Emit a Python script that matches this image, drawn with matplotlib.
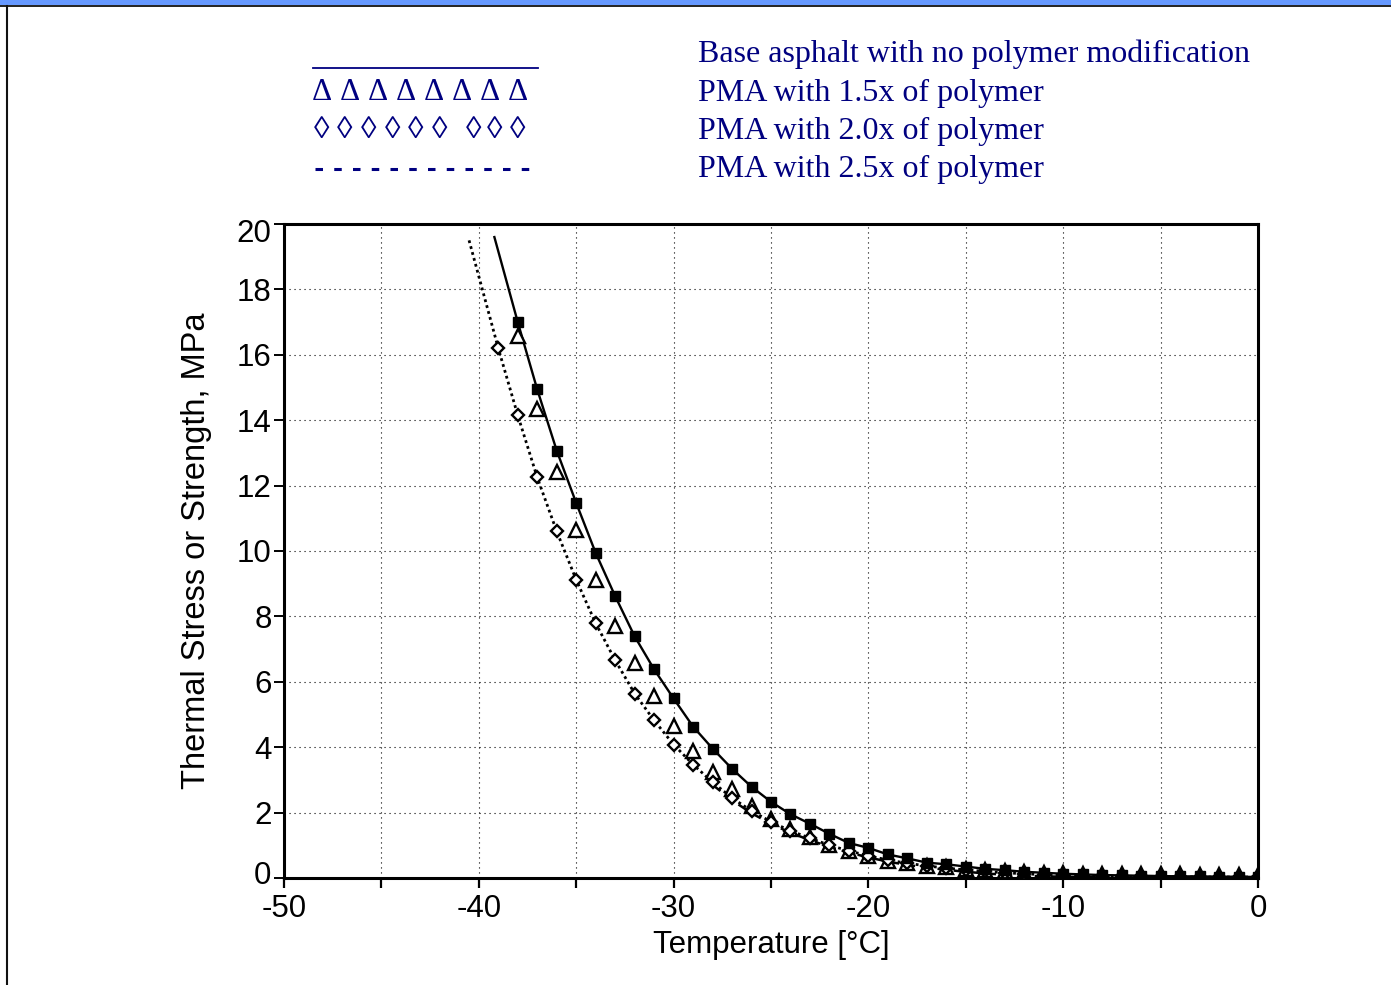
import matplotlib
matplotlib.use("Agg")
import matplotlib.pyplot as plt
import matplotlib.transforms as mtransforms
from matplotlib.lines import Line2D
from matplotlib.patches import Rectangle
from matplotlib.ticker import MultipleLocator

# ---------------- data ----------------
temps_base = list(range(-38, 1))
stress_base = [17.0, 14.94, 13.07, 11.47, 9.94, 8.62, 7.39, 6.38, 5.49, 4.63,
               3.96, 3.34, 2.79, 2.33, 1.95, 1.66, 1.35, 1.07, 0.92, 0.72,
               0.60, 0.47, 0.42, 0.35, 0.28, 0.24, 0.19, 0.16, 0.13, 0.11,
               0.09, 0.08, 0.07, 0.06, 0.05, 0.05, 0.04, 0.04, 0.03]
curve_start_base = (-39.2, 19.6)

temps_15 = list(range(-38, 1))
stress_15 = [16.56, 14.33, 12.42, 10.64, 9.11, 7.70, 6.56, 5.58, 4.66, 3.87,
             3.25, 2.73, 2.20, 1.80, 1.50, 1.25, 1.00, 0.82, 0.66, 0.53,
             0.45, 0.38, 0.33, 0.28, 0.24, 0.20, 0.17, 0.15, 0.14, 0.13,
             0.12, 0.12, 0.11, 0.11, 0.11, 0.10, 0.10, 0.09, 0.08]

temps_20 = list(range(-39, 1))
stress_20 = [16.2, 14.15, 12.25, 10.6, 9.12, 7.79, 6.66, 5.64, 4.82, 4.08,
             3.47, 2.93, 2.45, 2.05, 1.72, 1.44, 1.22, 1.00, 0.83, 0.68,
             0.55, 0.45, 0.37, 0.30, 0.25, 0.20, 0.16, 0.13, 0.10, 0.08,
             0.07, 0.06, 0.05, 0.05, 0.04, 0.04, 0.03, 0.03, 0.03, 0.03]
curve_start_20 = (-40.5, 19.5)

temps_25 = list(range(-28, 1))
stress_25 = [2.85, 2.38, 1.98, 1.66, 1.38, 1.16, 0.95, 0.78, 0.63, 0.50,
             0.40, 0.32, 0.25, 0.19, 0.14, 0.10, 0.07, 0.05, 0.04, 0.03,
             0.02, 0.02, 0.02, 0.01, 0.01, 0.01, 0.01, 0.01, 0.01]

legend_labels = ["Base asphalt with no polymer modification",
                 "PMA with 1.5x of polymer",
                 "PMA with 2.0x of polymer",
                 "PMA with 2.5x of polymer"]
delta_glyph = "\u0394"
lozenge_glyph = "\u25CA"

x_ticks = [-50, -40, -30, -20, -10, 0]
x_ticklabels = ["-50", "-40", "-30", "-20", "-10", "0"]
x_label = "Temperature [\u00b0C]"
y_label = "Thermal Stress or Strength, MPa"

# ---------------- figure ----------------
W, H = 1391, 985
fig = plt.figure(figsize=(W / 100, H / 100), dpi=100)
fig.patch.set_facecolor("white")

def fx(px):
    return px / W

def fy(py):
    return 1 - py / H

# slide frame
fig.add_artist(Rectangle((0, fy(4.5)), 1, 4.5 / H, transform=fig.transFigure,
                         facecolor="#6699ff", edgecolor="none"))
fig.add_artist(Line2D([0, 1], [fy(5.5), fy(5.5)], transform=fig.transFigure,
                      color="#111111", lw=1.3))
fig.add_artist(Line2D([fx(6.8), fx(6.8)], [0, fy(5.5)], transform=fig.transFigure,
                      color="#111111", lw=1.5))

ax = fig.add_axes([fx(284), fy(878), fx(1258) - fx(284), fy(224) - fy(878)])

# series
ax.plot([curve_start_base[0]] + temps_base, [curve_start_base[1]] + stress_base,
        color="black", lw=1.7, zorder=3)
ax.plot(temps_base, stress_base, ls="none", marker="s", ms=7.0,
        mfc="black", mec="black", zorder=5)

ax.plot(temps_15, stress_15, ls="none", marker="^", ms=9.5, mfc="white",
        mec="black", mew=1.7, zorder=4)

ax.plot([curve_start_20[0]] + temps_20, [curve_start_20[1]] + stress_20,
        color="black", lw=2.0, ls=(0, (1, 1.2)), zorder=3)
ax.plot(temps_20, stress_20, ls="none", marker="D", ms=6.5, mfc="white",
        mec="black", mew=1.7, zorder=4)

ax.plot(temps_25, stress_25, color="black", lw=1.8, ls=(0, (4, 2.5)), zorder=3)

ax.set_xlim(-50, 0)
ax.set_ylim(0, 20)
ax.xaxis.set_minor_locator(MultipleLocator(5))
ax.yaxis.set_major_locator(MultipleLocator(2))
ax.set_xticks(x_ticks)
ax.set_xticklabels(x_ticklabels)

ax.grid(True, which="both", axis="x", color="black", lw=0.8, ls=(0, (1, 3.5)))
ax.grid(True, which="major", axis="y", color="black", lw=0.8, ls=(0, (1, 3.5)))
ax.set_axisbelow(True)

for s in ax.spines.values():
    s.set_linewidth(2.2)
    s.set_color("black")

ax.tick_params(axis="x", which="both", direction="out", length=7.5, width=1.6,
               labelsize=22.5, pad=4)
ax.tick_params(axis="y", which="major", direction="out", length=7, width=1.4,
               labelsize=22.5, pad=2)
for lbl in ax.get_xticklabels() + ax.get_yticklabels():
    lbl.set_fontfamily("Liberation Sans")

# end labels of the y axis are nudged inwards, as in the original
fig.canvas.draw()
for lbl in ax.get_yticklabels():
    txt = lbl.get_text().replace("\u2212", "-")
    if txt == "0":
        lbl.set_transform(lbl.get_transform() +
                          mtransforms.ScaledTranslation(0, 6 / 100, fig.dpi_scale_trans))
    elif txt == "20":
        lbl.set_transform(lbl.get_transform() +
                          mtransforms.ScaledTranslation(0, -6 / 100, fig.dpi_scale_trans))

ax.set_xlabel(x_label, fontsize=22.5, family="Liberation Sans", labelpad=4)
ax.set_ylabel(y_label, fontsize=23.5, family="Liberation Sans", labelpad=18)

# legend drawn as in the original (blue text block)
navy = "#000080"
serif = ["Liberation Serif", "DejaVu Serif"]
fig.add_artist(Line2D([fx(313), fx(538)], [fy(68), fy(68)], transform=fig.transFigure,
                      color=navy, lw=1.3))
for i in range(8):
    fig.text(fx(322 + i * 28.0), fy(93), delta_glyph, ha="center", va="center",
             fontsize=22.5, family=serif, color=navy)
loz_x = [321.4, 345.0, 368.8, 392.4, 416.0, 439.7, 473.2, 494.6, 517.9]
for xx in loz_x:
    fig.text(fx(xx), fy(130), lozenge_glyph, ha="center", va="center",
             fontsize=22.5, family=serif, color=navy)
lw_d = 2.2
fig.add_artist(Line2D([fx(315), fx(529.5)], [fy(168.5), fy(168.5)], transform=fig.transFigure,
                      color=navy, lw=lw_d, solid_capstyle="butt", dash_capstyle="butt",
                      ls=(0, (5.4 / lw_d, 8.1 / lw_d))))
text_rows = [52, 91, 129, 167]
for lab, yy in zip(legend_labels, text_rows):
    fig.text(fx(698), fy(yy + 2.5), lab, ha="left", va="center", fontsize=23,
             family=serif, color=navy)

fig.savefig("out.png", dpi=100)
